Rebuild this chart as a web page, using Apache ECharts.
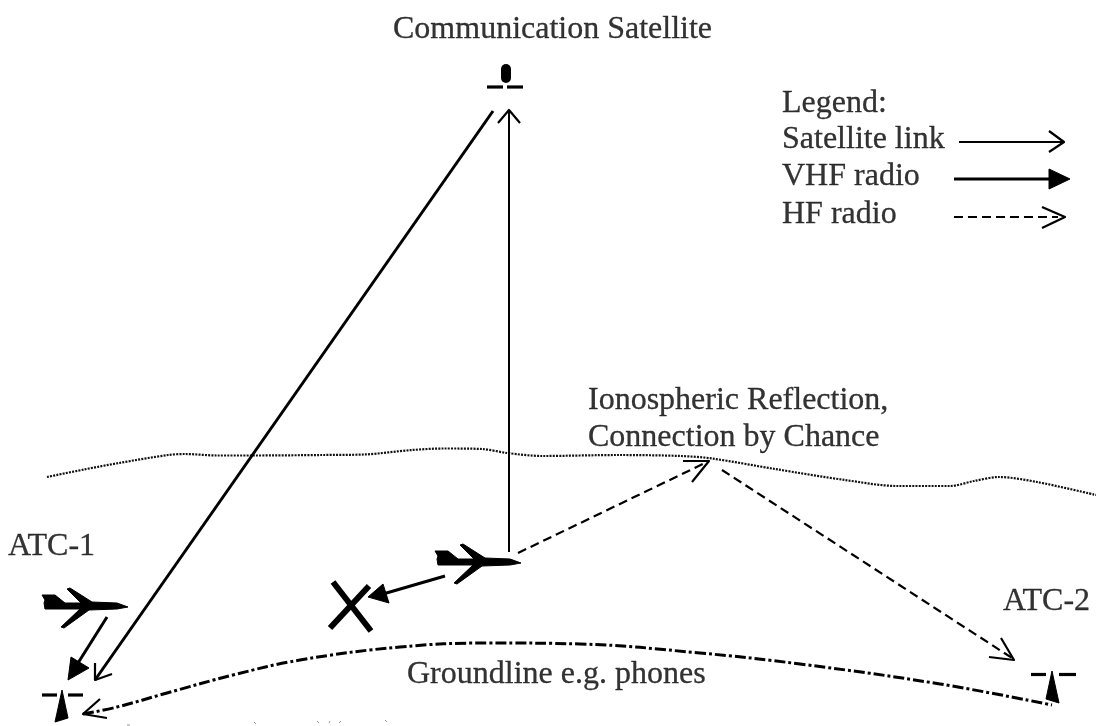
<!DOCTYPE html>
<html>
<head>
<meta charset="utf-8">
<style>html,body{margin:0;padding:0;background:#fff}#main{width:1096px;height:726px}</style>
<script src="https://cdn.jsdelivr.net/npm/echarts@6/dist/echarts.min.js"></script>
</head>
<body>
<div id="main"></div>
<script>
// labels: [x, y, text]
const labels = [
  [393, 30, 'Communication Satellite'],
  [782, 104, 'Legend:'],
  [782, 140, 'Satellite link'],
  [782, 177, 'VHF radio'],
  [782, 215, 'HF radio'],
  [588, 401, 'Ionospheric Reflection,'],
  [588, 438, 'Connection by Chance'],
  [8, 547, 'ATC-1'],
  [1003, 602, 'ATC-2'],
  [407, 675, 'Groundline e.g. phones']
];

const ionosphere = [[47,477],[84,469.5],[119,463],[168,455],[185,454],[217,455.5],[252,455.5],[322,455],[364,454.5],[412,450],[444,448.5],[482,449],[507,453],[542,456],[618,455],[681,456],[712,458.5],[775,469],[845,480],[897,486],[950,486],[974,481],[999,477],[1037,482],[1096,495]];
const groundline = [[83,714],[117,707],[167,693],[233,675],[300,660],[400,647],[487,643],[580,644],[700,653],[800,664],[940,684],[1052,705]];

// thin links (satellite) with open heads
const satLinks = [
  [[493,111],[95,680]],
  [[509,552],[509,110]],
  [[959,142],[1064,142]]
];
const openHeads = [
  [[95,663],[95,680],[112,674]],
  [[498,123],[509,110],[520,123]],
  [[1049,131],[1064,142],[1049,152]],
  [[100,699],[83,714],[107,718]],
  [[683,461],[709,461],[692,482]],
  [[1001,638],[1014,660],[989,657]],
  [[1042,207],[1065,217],[1042,228]]
];
// VHF links, filled heads
const vhfLinks = [
  [[107,617],[78,663]],
  [[445,576],[383,594]],
  [[954,179],[1050,179]]
];
const filledHeads = [
  [[68,680],[71,657],[89,668]],
  [[368,597],[383,584],[389,603]],
  [[1070,179],[1049,169],[1049,189]]
];
// HF links
const hfLinks = [
  [[518,553],[705,463]],
  [[722,470],[1012,658]],
  [[954,217],[1058,217]]
];

// planes share one outline, given relative to the tail tip
const planeOutline = [[0,0],[13,0],[23,8],[39,8],[25,-6],[28,-7],[50,7],[75,8],[86,12],[75,14],[47,15],[22,33],[19,32],[38,14],[3,14],[2,8],[3,5]];
const planeTails = [[42,595],[435,551]];

const towerBody = [[[62,690],[55,722],[68,718]],[[1052,671],[1046,699],[1059,703]]];
const towerBars = [
  [[42,695],[57,695]],[[68,695],[83,695]],
  [[1031,674.5],[1046,674.5]],[[1059,674.5],[1076,674.5]]
];
const satBody = [[506,69],[506,78]];
const satBars = [[[487,87],[503,87]],[[507,87],[523,87]]];
const crossMark = [[[333,582],[371,631]],[[369,586],[330,628]]];
const specks = [[[127,725],[130,725]],[[254,722],[256,724]],[[317,721],[319,723]],[[330,721],[329,723]],[[341,721],[339,723]],[[385,720],[387,722]]];

const INK = '#000';

function lineSeries(points, style) {
  return {
    type: 'line', data: points, showSymbol: false, silent: true, animation: false,
    smooth: style.smooth || false, clip: false,
    lineStyle: { color: style.color || INK, width: style.width, type: style.type || 'solid', cap: style.cap || 'butt', join: 'round' }
  };
}

const polygons = filledHeads.concat(towerBody, planeTails.map(function (t) {
  return planeOutline.map(function (p) { return [t[0] + p[0], t[1] + p[1]]; });
}));

const series = [];
series.push(lineSeries(ionosphere, { width: 2.2, type: [2, 1.2], smooth: 0.3, color: '#111' }));
series.push(lineSeries(groundline, { width: 3, type: [11, 3, 3, 3], smooth: 0.4 }));
satLinks.forEach(function (l, i) { series.push(lineSeries(l, { width: i === 0 ? 3 : 2 })); });
openHeads.forEach(function (l) { series.push(lineSeries(l, { width: 2.2 })); });
vhfLinks.forEach(function (l) { series.push(lineSeries(l, { width: 3 })); });
hfLinks.forEach(function (l) { series.push(lineSeries(l, { width: 2.2, type: [9, 5] })); });
towerBars.concat(satBars).forEach(function (l) { series.push(lineSeries(l, { width: 3.2 })); });
crossMark.forEach(function (l) { series.push(lineSeries(l, { width: 6 })); });
specks.forEach(function (l) { series.push(lineSeries(l, { width: 1, color: '#999' })); });
series.push(lineSeries(satBody, { width: 10, cap: 'round' }));

series.push({
  type: 'custom', silent: true, animation: false, clip: false,
  data: polygons.map(function (p) { return p[0]; }),
  renderItem: function (params, api) {
    return {
      type: 'polygon',
      shape: { points: polygons[params.dataIndex].map(function (p) { return api.coord(p); }) },
      style: { fill: INK, stroke: INK, lineWidth: 1 }
    };
  }
});

series.push({
  type: 'scatter', symbolSize: 0, silent: true, animation: false,
  data: labels,
  label: {
    show: true, position: 'right', distance: 0,
    formatter: function (p) { return p.value[2]; },
    fontFamily: '"Liberation Serif", serif', fontSize: 32, color: '#000',
    textBorderColor: '#000', textBorderWidth: 0.3
  }
});

const chart = echarts.init(document.getElementById('main'));
chart.setOption({
  backgroundColor: '#fff',
  animation: false,
  grid: { left: 0, right: 0, top: 0, bottom: 0 },
  xAxis: { type: 'value', min: 0, max: 1096, show: false },
  yAxis: { type: 'value', min: 0, max: 726, inverse: true, show: false },
  series: series
});
</script>
</body>
</html>
